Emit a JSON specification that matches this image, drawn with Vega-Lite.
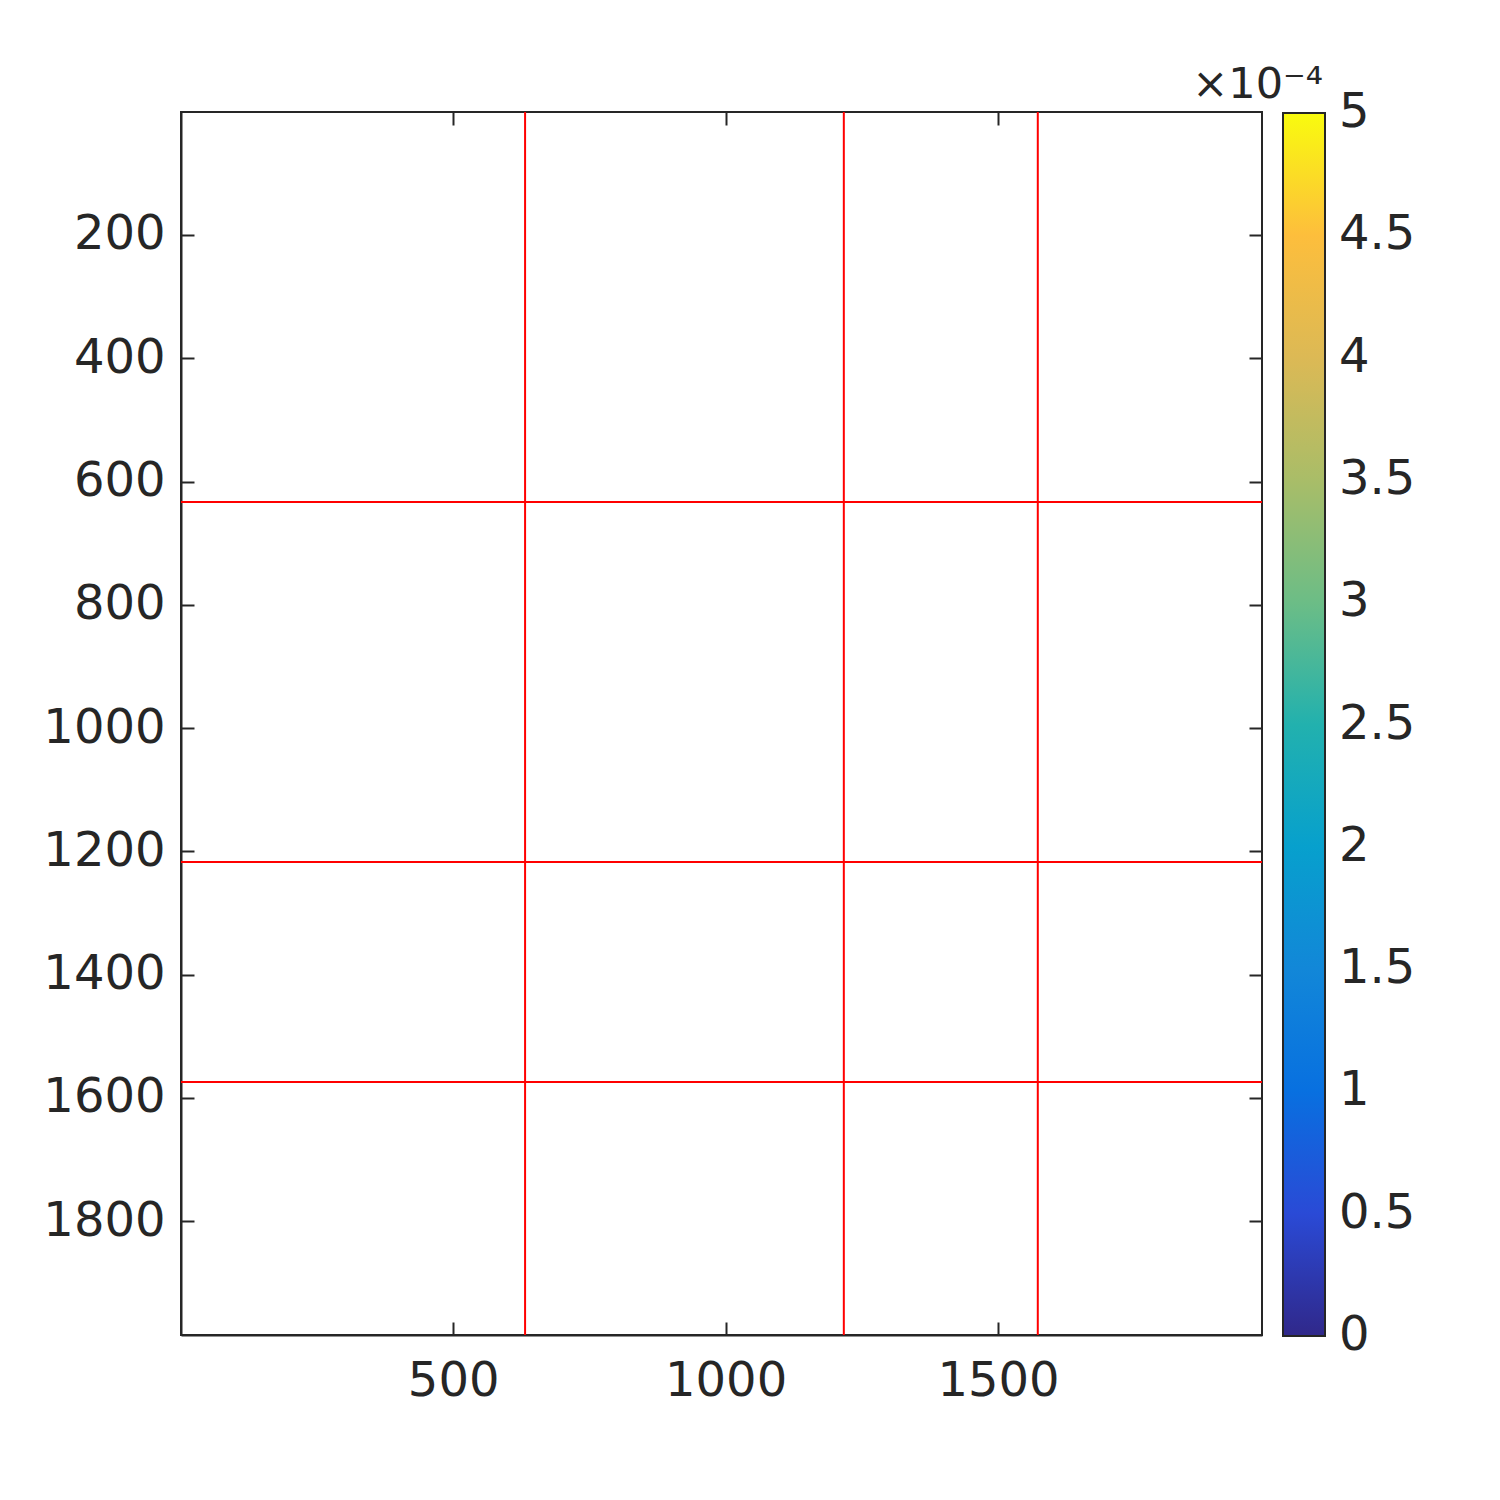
{
  "$schema": "https://vega.github.io/schema/vega-lite/v6.json",
  "autosize": {"type": "none"},
  "padding": {"left": 181, "top": 112, "right": 238, "bottom": 165},
  "width": 1081,
  "height": 1223,
  "background": "white",
  "config": {
    "view": {"stroke": "#262626", "strokeWidth": 2},
    "font": "DejaVu Sans",
    "axis": {
      "grid": false,
      "title": null,
      "format": "d",
      "labelFont": "DejaVu Sans",
      "labelFontSize": 48,
      "labelColor": "#262626",
      "tickColor": "#262626",
      "tickWidth": 2,
      "tickSize": -13,
      "domainColor": "#262626",
      "domainWidth": 2
    }
  },
  "datasets": {
    "vlines": [{"pos": 632}, {"pos": 1217}, {"pos": 1573}],
    "hlines": [{"pos": 633}, {"pos": 1217}, {"pos": 1574}],
    "cbar": [{"v": 0}, {"v": 0.0005}]
  },
  "resolve": {"axis": {"x": "independent", "y": "independent"}},
  "layer": [
    {
      "data": {"name": "vlines"},
      "mark": {"type": "rule", "color": "#ff0000", "strokeWidth": 2},
      "encoding": {
        "x": {
          "field": "pos", "type": "quantitative",
          "scale": {"domain": [0.5, 1984.5], "nice": false, "zero": false},
          "axis": {"orient": "bottom", "values": [500, 1000, 1500], "labelPadding": 35, "labelFlush": false}
        }
      }
    },
    {
      "data": {"name": "hlines"},
      "mark": {"type": "rule", "color": "#ff0000", "strokeWidth": 2},
      "encoding": {
        "y": {
          "field": "pos", "type": "quantitative",
          "scale": {"domain": [0.5, 1984.5], "nice": false, "zero": false, "reverse": true},
          "axis": {"orient": "left", "values": [200, 400, 600, 800, 1000, 1200, 1400, 1600, 1800], "labelPadding": 29, "labelFlush": false}
        }
      }
    },
    {
      "data": {"name": "cbar"},
      "mark": {"type": "point", "filled": true, "opacity": 0},
      "encoding": {
        "x": {
          "datum": 1000, "type": "quantitative",
          "scale": {"domain": [0.5, 1984.5], "nice": false, "zero": false},
          "axis": {"orient": "top", "values": [500, 1000, 1500], "labels": false, "domain": false}
        },
        "y": {
          "datum": 1000, "type": "quantitative",
          "scale": {"domain": [0.5, 1984.5], "nice": false, "zero": false, "reverse": true},
          "axis": {"orient": "right", "values": [200, 400, 600, 800, 1000, 1200, 1400, 1600, 1800], "labels": false, "domain": false}
        },
        "color": {
          "field": "v", "type": "quantitative",
          "scale": {
            "domain": [0, 0.0005],
            "interpolate": "rgb",
            "range": ["#30288a", "#2a4ad6", "#0870e0", "#1287d8", "#07a0cd", "#22b1ae", "#6cbd86", "#a9bd68", "#dcb955", "#fdbe3c", "#f9fb0e"]
          },
          "legend": {
            "type": "gradient",
            "orient": "none",
            "legendX": 1011,
            "legendY": -48,
            "direction": "vertical",
            "gradientLength": 1223,
            "gradientThickness": 42,
            "gradientStrokeColor": "#262626",
            "gradientStrokeWidth": 2,
            "values": [0, 0.00005, 0.0001, 0.00015, 0.0002, 0.00025, 0.0003, 0.00035, 0.0004, 0.00045, 0.0005],
            "labelExpr": "format(datum.value * 10000, '.2~f')",
            "labelFont": "DejaVu Sans",
            "labelFontSize": 48,
            "labelColor": "#262626",
            "labelOffset": 14,
            "labelOverlap": false,
            "labelLimit": 300,
            "title": "×10⁻⁴",
            "titleFont": "DejaVu Sans",
            "titleFontSize": 43,
            "titleFontWeight": "normal",
            "titleColor": "#262626",
            "titleAnchor": "start",
            "titlePadding": 6,
            "encode": {
              "labels": {"update": {"baseline": {"value": "middle"}}},
              "title": {"update": {"dx": {"value": 40}, "align": {"value": "right"}}}
            }
          }
        }
      }
    }
  ]
}
